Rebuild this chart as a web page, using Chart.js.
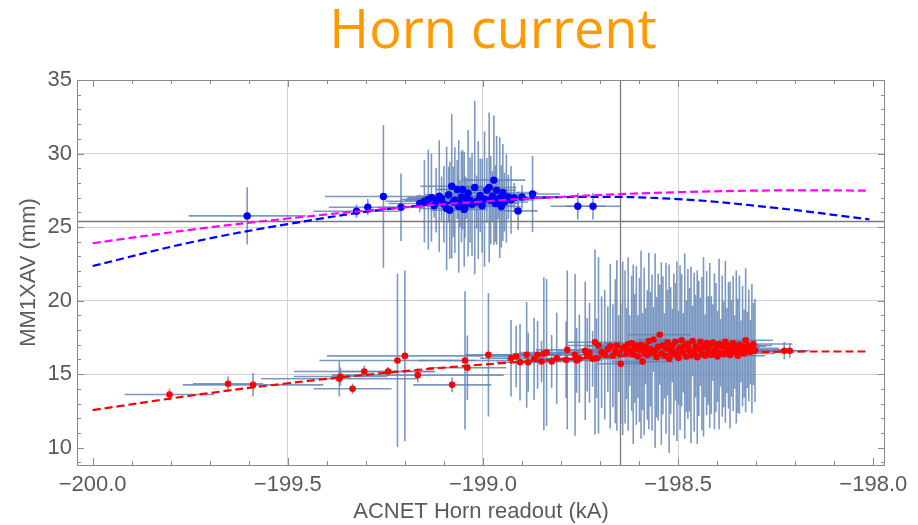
<!DOCTYPE html>
<html>
<head>
<meta charset="utf-8">
<title>Horn current</title>
<script src="https://cdn.jsdelivr.net/npm/chart.js@4.4.0/dist/chart.umd.min.js"></script>
<style>
  html, body { margin: 0; padding: 0; background: #fff; }
  #wrap { width: 918px; height: 525px; position: relative; }
</style>
</head>
<body>
<div id="wrap"><canvas id="c"></canvas></div>
<script>
// Horn current scan: MM1XAV vs ACNET horn readout, two data groups + fits.

// ---- axes ----
const X_TICKS = [-200, -199.5, -199, -198.5, -198];
const Y_TICKS = [10, 15, 20, 25, 30, 35];
const X_GRID  = [-199.5, -199, -198.5];
const Y_GRID  = [15, 20, 25, 30];
const H_LINE  = 25.42;      // horizontal reference
const V_LINE  = -198.65;    // vertical reference

// ---- blue group (upper) ----
const blueX = [
  -199.604, -199.324, -199.295, -199.255, -199.210, -199.162, -199.150, -199.140, -199.132, -199.125,
  -199.120, -199.112, -199.106, -199.100, -199.093, -199.088, -199.085, -199.080, -199.076, -199.072,
  -199.066, -199.062, -199.059, -199.055, -199.052, -199.048, -199.046, -199.042, -199.038, -199.033,
  -199.028, -199.021, -199.016, -199.012, -199.007, -199.002, -198.996, -198.990, -198.984, -198.980,
  -198.976, -198.972, -198.968, -198.965, -198.961, -198.957, -198.953, -198.949, -198.945, -198.940,
  -198.935, -198.928, -198.920, -198.910, -198.900, -198.873, -198.757, -198.718];
const blueY = [
  25.76, 26.08, 26.35, 27.08, 26.35, 26.60, 26.75, 26.87, 27.00, 26.45,
  26.83, 27.10, 26.94, 26.55, 26.26, 27.20, 26.14, 27.78, 26.70, 26.83,
  27.55, 26.40, 26.60, 27.05, 27.55, 26.20, 26.37, 26.95, 27.30, 26.83,
  26.55, 27.69, 26.70, 26.83, 27.15, 26.45, 26.90, 27.50, 27.69, 26.83,
  27.10, 28.19, 26.60, 27.50, 26.83, 27.00, 26.40, 27.35, 26.70, 26.95,
  27.05, 26.85, 27.00, 26.10, 27.05, 27.25, 26.42, 26.42];
const blueEx = [
  0.15, 0.11, 0.10, 0.15, 0.06, 0.08, 0.10, 0.07, 0.06, 0.05,
  0.08, 0.06, 0.09, 0.05, 0.07, 0.06, 0.05, 0.08, 0.06, 0.07,
  0.05, 0.06, 0.09, 0.05, 0.07, 0.06, 0.05, 0.08, 0.06, 0.07,
  0.05, 0.06, 0.07, 0.05, 0.06, 0.08, 0.06, 0.05, 0.07, 0.06,
  0.05, 0.08, 0.06, 0.05, 0.07, 0.06, 0.05, 0.09, 0.06, 0.07,
  0.05, 0.06, 0.05, 0.05, 0.06, 0.07, 0.07, 0.07];
const blueEy = [
  1.95, 0.45, 0.55, 4.85, 2.30, 0.60, 2.80, 3.40, 3.00, 0.80,
  2.20, 3.80, 1.50, 2.60, 4.20, 1.90, 3.30, 4.90, 2.40, 3.60,
  2.00, 4.50, 1.60, 3.10, 2.70, 3.90, 2.10, 1.40, 4.30, 2.90,
  3.50, 5.90, 1.80, 4.00, 2.50, 3.20, 4.60, 2.20, 5.10, 3.00,
  1.70, 4.40, 2.60, 3.70, 1.30, 4.10, 2.80, 3.30, 2.00, 3.00,
  1.50, 2.30, 1.00, 1.30, 0.80, 2.60, 0.90, 0.90];

// ---- red group (lower) ----
const redX = [
  -199.803, -199.653, -199.589, -199.368, -199.365, -199.334, -199.304, -199.243, -199.219, -199.200,
  -199.167, -199.079, -199.046, -199.040,
  -198.986, -198.928, -198.915, -198.905, -198.888, -198.884, -198.869, -198.860, -198.850, -198.844,
  -198.837, -198.824, -198.811, -198.787, -198.784, -198.764, -198.760, -198.753, -198.738, -198.733,
  -198.727, -198.719, -198.713, -198.709, -198.704, -198.696, -198.688, -198.680, -198.674, -198.667,
  -198.661, -198.657, -198.652, -198.647, -198.642,
  -198.636, -198.632, -198.628, -198.624, -198.619, -198.615, -198.611, -198.607, -198.603, -198.599,
  -198.595, -198.591, -198.587, -198.583, -198.579, -198.575, -198.571, -198.567, -198.563, -198.559,
  -198.555, -198.551, -198.547, -198.543, -198.539, -198.535, -198.531, -198.527, -198.523, -198.519,
  -198.515, -198.511, -198.507, -198.503, -198.499, -198.495, -198.491, -198.487, -198.483, -198.479,
  -198.475, -198.471, -198.467, -198.463, -198.459, -198.455, -198.451, -198.447, -198.443, -198.439,
  -198.435, -198.431, -198.427, -198.423, -198.419, -198.415, -198.411, -198.407, -198.403, -198.399,
  -198.395, -198.391, -198.387, -198.383, -198.379, -198.375, -198.371, -198.367, -198.363, -198.359,
  -198.355, -198.351, -198.347, -198.343, -198.339, -198.335, -198.331, -198.327, -198.323, -198.319,
  -198.315, -198.311, -198.307, -198.303,
  -198.228, -198.214];
const redY = [
  13.61, 14.34, 14.27, 14.68, 14.84, 14.00, 15.18, 15.18, 15.93, 16.24,
  14.93, 14.27, 15.93, 15.43,
  16.31, 16.08, 16.20, 15.81, 16.31, 15.81, 16.04, 16.31, 15.86, 16.38,
  16.47, 15.86, 16.08, 15.97, 16.65, 16.31, 15.93, 16.04, 16.58, 16.31,
  16.45, 16.04, 17.17, 16.08, 16.95, 16.49, 16.31, 16.70, 16.90, 16.25,
  16.55, 16.95, 16.40, 15.70, 16.75,
  16.85, 16.40, 17.05, 16.60, 17.10, 16.35, 16.75, 16.95, 16.20, 16.65,
  17.00, 15.85, 16.55, 16.90, 16.30, 17.25, 16.70, 16.45, 17.35, 16.60,
  16.15, 16.85, 17.68, 16.40, 16.95, 16.25, 16.75, 17.15, 16.05, 16.60,
  16.95, 16.35, 17.20, 16.55, 16.10, 16.80, 17.30, 16.45, 16.90, 16.20,
  17.05, 16.65, 16.30, 17.25, 16.50, 16.90, 16.15, 16.75, 17.20, 16.40,
  16.85, 16.25, 17.10, 16.60, 16.95, 16.30, 17.15, 16.55, 16.80, 16.20,
  17.05, 16.45, 16.90, 16.35, 17.20, 16.60, 16.95, 16.30, 16.75, 17.10,
  16.50, 16.85, 16.25, 17.00, 16.55, 16.90, 16.40, 17.30, 16.65, 16.95,
  16.50, 16.75, 17.05, 16.60,
  16.59, 16.59];
const redEx = [
  0.115, 0.09, 0.18, 0.20, 0.12, 0.10, 0.18, 0.12, 0.20, 0.20,
  0.22, 0.10, 0.12, 0.10,
  0.06, 0.08, 0.07, 0.06, 0.09, 0.05, 0.07, 0.06, 0.05, 0.08,
  0.07, 0.06, 0.05, 0.09, 0.08, 0.07, 0.06, 0.05, 0.07, 0.06,
  0.08, 0.05, 0.07, 0.06, 0.08, 0.06, 0.05, 0.07, 0.06, 0.05,
  0.07, 0.06, 0.05, 0.06, 0.07,
  0.06, 0.05, 0.08, 0.04, 0.07, 0.05, 0.09, 0.06, 0.04, 0.07,
  0.05, 0.08, 0.06, 0.04, 0.07, 0.05, 0.06, 0.09, 0.04, 0.06,
  0.07, 0.05, 0.08, 0.06, 0.04, 0.07, 0.05, 0.06, 0.08, 0.04,
  0.06, 0.07, 0.05, 0.09, 0.06, 0.04, 0.07, 0.05, 0.06, 0.08,
  0.04, 0.06, 0.07, 0.05, 0.08, 0.06, 0.04, 0.07, 0.05, 0.09,
  0.06, 0.04, 0.07, 0.05, 0.06, 0.08, 0.04, 0.06, 0.07, 0.05,
  0.08, 0.06, 0.04, 0.07, 0.05, 0.09, 0.06, 0.04, 0.07, 0.05,
  0.08, 0.06, 0.07, 0.05, 0.09, 0.06, 0.08, 0.07, 0.10, 0.06,
  0.09, 0.07, 0.10, 0.08,
  0.06, 0.05];
const redEy = [
  0.40, 0.50, 0.80, 1.20, 0.60, 0.35, 0.40, 0.30, 5.90, 5.80,
  0.50, 0.50, 4.70, 2.20,
  4.20, 2.60, 2.10, 2.60, 3.60, 2.00, 2.80, 2.30, 1.40, 5.20,
  5.00, 1.80, 3.10, 2.60, 5.40, 5.50, 2.20, 3.00, 4.70, 2.50,
  3.40, 1.90, 6.30, 2.70, 6.00, 3.80, 4.40, 2.90, 5.60, 3.50,
  4.90, 5.80, 2.60, 4.10, 5.90,
  5.2, 3.1, 5.9, 2.4, 4.6, 6.1, 3.7, 5.4, 2.8, 4.9,
  6.4, 3.3, 5.7, 2.6, 4.4, 6.0, 3.9, 5.3, 2.2, 6.6,
  4.1, 5.0, 3.4, 6.2, 4.7, 2.9, 5.8, 3.6, 6.4, 4.3,
  2.5, 5.5, 4.0, 6.1, 3.2, 5.6, 4.5, 2.7, 6.3, 3.8,
  5.1, 4.2, 6.0, 2.4, 5.4, 3.5, 5.9, 4.6, 3.0, 5.2,
  6.1, 2.8, 4.9, 3.7, 5.6, 4.0, 2.6, 5.3, 4.4, 3.1,
  5.8, 2.3, 4.8, 3.6, 5.5, 2.9, 4.3, 5.0, 3.3, 4.6,
  2.5, 5.2, 3.9, 4.7, 2.1, 4.1, 3.0, 4.9, 2.6, 3.8,
  2.2, 4.4, 2.8, 3.5,
  0.6, 0.5];

// ---- fitted curves ----
const fitX       = [-200, -199.75, -199.5, -199.25, -199, -198.75, -198.5, -198.25, -198.01];
const fitMagenta = [23.90, 24.81, 25.58, 26.23, 26.74, 27.12, 27.37, 27.49, 27.48];
const fitBlue    = [22.35, 23.95, 25.20, 26.20, 26.80, 27.05, 26.90, 26.30, 25.52];
const fitRed     = [12.55, 13.53, 14.38, 15.08, 15.65, 16.08, 16.37, 16.52, 16.54];

const COLOR_ERR   = 'rgba(94,129,181,0.82)';
const COLOR_GRID  = '#d2d2d2';
const COLOR_FRAME = '#8a8a8a';
const COLOR_TEXT  = '#5a5a5a';
const FONT        = "'Liberation Sans', Arial, sans-serif";

const pts = (xs, ys) => xs.map((v, i) => ({ x: v, y: ys[i] }));
const minus = v => (v < 0 ? '\u2212' : '') + Math.abs(v).toFixed(1);

// error bars + reference lines, drawn under the markers
const errorBars = {
  id: 'errorBars',
  beforeDatasetsDraw(chart) {
    const { ctx, chartArea: a, scales: { x, y } } = chart;
    ctx.save();
    ctx.beginPath();
    ctx.rect(a.left, a.top, a.right - a.left, a.bottom - a.top);
    ctx.clip();
    ctx.strokeStyle = COLOR_ERR;
    ctx.lineWidth = 1.6;
    const draw = (xs, ys, exs, eys) => xs.forEach((xv, i) => {
      const px = x.getPixelForValue(xv), py = y.getPixelForValue(ys[i]);
      ctx.beginPath();
      ctx.moveTo(px, y.getPixelForValue(ys[i] + eys[i]));
      ctx.lineTo(px, y.getPixelForValue(ys[i] - eys[i]));
      ctx.stroke();
      ctx.beginPath();
      ctx.moveTo(x.getPixelForValue(xv - exs[i]), py);
      ctx.lineTo(x.getPixelForValue(xv + exs[i]), py);
      ctx.stroke();
    });
    draw(blueX, blueY, blueEx, blueEy);
    draw(redX, redY, redEx, redEy);

    ctx.strokeStyle = '#7a7a7a';
    ctx.lineWidth = 1.3;
    const hy = Math.round(y.getPixelForValue(H_LINE)) + 0.5;
    const vx = Math.round(x.getPixelForValue(V_LINE)) + 0.5;
    ctx.beginPath();
    ctx.moveTo(a.left, hy); ctx.lineTo(a.right, hy);
    ctx.moveTo(vx, a.top); ctx.lineTo(vx, a.bottom);
    ctx.stroke();
    ctx.restore();
  },
};

// Mathematica-like frame with inward ticks on all four sides, plus the title
const frame = {
  id: 'frame',
  afterDraw(chart) {
    const { ctx, chartArea: a, scales: { x, y } } = chart;
    ctx.save();
    ctx.strokeStyle = COLOR_FRAME;
    ctx.lineWidth = 1;
    ctx.strokeRect(a.left + 0.5, a.top + 0.5, a.right - a.left - 1, a.bottom - a.top);
    ctx.beginPath();
    for (let k = 0; k <= 20; k++) {
      const v = -200 + k * 0.1;
      const px = Math.round(x.getPixelForValue(v)) + 0.5;
      const len = k % 5 === 0 ? 7 : 4;
      ctx.moveTo(px, a.bottom); ctx.lineTo(px, a.bottom - len);
      ctx.moveTo(px, a.top); ctx.lineTo(px, a.top + len);
    }
    for (let v = 9; v <= 35; v++) {
      const py = Math.round(y.getPixelForValue(v)) + 0.5;
      const len = v % 5 === 0 ? 7 : 4;
      ctx.moveTo(a.left, py); ctx.lineTo(a.left + len, py);
      ctx.moveTo(a.right, py); ctx.lineTo(a.right - len, py);
    }
    ctx.stroke();

    ctx.fillStyle = '#ff9900';
    ctx.font = "54px 'Open Sans', sans-serif";
    ctx.textAlign = 'center';
    ctx.textBaseline = 'alphabetic';
    ctx.fillText('Horn current', 493, 48);
    ctx.restore();
  },
};

Chart.defaults.font.family = FONT;

new Chart(document.getElementById('c'), {
  type: 'scatter',
  data: {
    datasets: [
      { type: 'line', label: 'fit (magenta)', data: pts(fitX, fitMagenta), borderColor: '#ff00ff',
        borderWidth: 2.2, borderDash: [8, 4], pointRadius: 0, tension: 0.4, fill: false, order: 0 },
      { type: 'line', label: 'fit (blue)', data: pts(fitX, fitBlue), borderColor: '#0000ff',
        borderWidth: 2.2, borderDash: [8, 4], pointRadius: 0, tension: 0.4, fill: false, order: 0 },
      { type: 'line', label: 'fit (red)', data: pts(fitX, fitRed), borderColor: '#ff0000',
        borderWidth: 2.2, borderDash: [8, 4], pointRadius: 0, tension: 0.4, fill: false, order: 0 },
      { label: 'upper', data: pts(blueX, blueY), backgroundColor: '#0000ff', borderWidth: 0,
        pointRadius: 3.7, order: 1 },
      { label: 'lower', data: pts(redX, redY), backgroundColor: '#ff0000', borderWidth: 0,
        pointRadius: 3.3, order: 1 },
    ],
  },
  options: {
    responsive: true,
    maintainAspectRatio: false,
    animation: false,
    devicePixelRatio: 1,
    layout: { padding: { top: 80, right: 33, left: 0, bottom: 0 } },
    plugins: { legend: { display: false }, tooltip: { enabled: false }, title: { display: false } },
    scales: {
      x: {
        type: 'linear',
        min: -200.04,
        max: -197.97,
        afterBuildTicks: s => { s.ticks = X_TICKS.map(v => ({ value: v })); },
        afterFit: s => { s.height = 60; },
        grid: { color: c => X_GRID.includes(c.tick && c.tick.value) ? COLOR_GRID : 'rgba(0,0,0,0)', drawTicks: false },
        border: { display: false },
        ticks: { color: COLOR_TEXT, font: { size: 22 }, padding: 7, maxRotation: 0, callback: v => minus(v) },
        title: { display: true, text: 'ACNET Horn readout (kA)', color: COLOR_TEXT,
                 font: { size: 22 }, padding: { top: 0, bottom: 0 } },
      },
      y: {
        type: 'linear',
        min: 8.82,
        max: 35,
        afterBuildTicks: s => { s.ticks = Y_TICKS.map(v => ({ value: v })); },
        afterFit: s => { s.width = 77; },
        grid: { color: c => Y_GRID.includes(c.tick && c.tick.value) ? COLOR_GRID : 'rgba(0,0,0,0)', drawTicks: false },
        border: { display: false },
        ticks: { color: COLOR_TEXT, font: { size: 22 }, padding: 5, callback: v => String(v) },
        title: { display: true, text: 'MM1XAV (mm)', color: COLOR_TEXT,
                 font: { size: 22 }, padding: { top: 16, bottom: 0 } },
      },
    },
  },
  plugins: [errorBars, frame],
});
</script>
</body>
</html>
